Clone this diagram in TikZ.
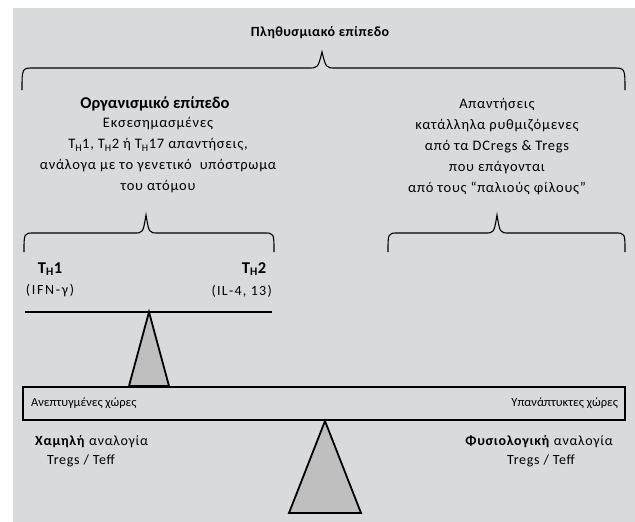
\documentclass[tikz,border=0pt]{standalone}
\usepackage{fontspec}
\setmainfont{Carlito}
\usetikzlibrary{positioning}
\definecolor{bggray}{RGB}{217,218,220}
\definecolor{trigray}{RGB}{191,191,191}

\begin{document}
\begin{tikzpicture}[x=1pt,y=-1pt,
    txt/.style={inner sep=0pt, align=center, font=\fontsize{14.5}{21}\selectfont\addfontfeatures{LetterSpace=5}},
    head/.style={inner sep=0pt, font=\fontsize{16.5}{18}\selectfont\bfseries},
    lbl/.style={inner sep=0pt, font=\fontsize{12.5}{14}\selectfont},
    low/.style={inner sep=0pt, font=\fontsize{14}{16}\selectfont\addfontfeatures{LetterSpace=5}},
    brc/.style={draw, line width=1.1pt},
    tri/.style={fill=trigray, draw, line width=1.8pt},
    node distance={6pt}]
    \useasboundingbox (0,0) rectangle (635,522);
    \fill[bggray] (13,8) rectangle (635,522);

    % population level
    \node[head, font=\fontsize{14}{16}\selectfont\bfseries\addfontfeatures{LetterSpace=3}] (pop) at (320,33) {Πληθυσμιακό επίπεδο};
    \draw[brc] (22,90) .. controls (22,68) .. (34,68) -- (308,68)
        .. controls (318,68) .. (322,52) .. controls (326,68) .. (336,68)
        -- (613,68) .. controls (625,68) .. (625,90);

    % organism level
    \node[head] (org) at (155,104) {Οργανισμικό επίπεδο};
    \node[txt] (orgtxt) at (158,155.5) {Εκσεσημασμένες\\
        T\textsubscript{H}1, T\textsubscript{H}2 ή T\textsubscript{H}17 απαντήσεις,\\
        ανάλογα με το γενετικό \ υπόστρωμα\\
        του ατόμου};
    \node[txt] (reg) at (497,147) {Απαντήσεις\\
        κατάλληλα ρυθμιζόμενες\\
        από τα DCregs \& Tregs\\
        που επάγονται\\
        από τους “παλιούς φίλους”};

    \draw[brc] (24,252) .. controls (24,233) .. (34,233) -- (134,233)
        .. controls (143,233) .. (146,215) .. controls (149,233) .. (158,233)
        -- (264,233) .. controls (274,233) .. (274,252);
    \draw[brc] (388,252) .. controls (388,233) .. (398,233) -- (485,233)
        .. controls (494,233) .. (497,215) .. controls (500,233) .. (509,233)
        -- (615,233) .. controls (625,233) .. (625,252);

    % TH1 / TH2 balance
    \node[head] (th1) at (50,269) {T\textsubscript{H}1};
    \node[head] (th2) at (254,269) {T\textsubscript{H}2};
    \node[low, font=\fontsize{14}{16}\selectfont\addfontfeatures{LetterSpace=12}] (ifn) at (50,291) {(IFN-γ)};
    \node[low, anchor=east, font=\fontsize{14}{16}\selectfont\addfontfeatures{LetterSpace=9}] (il) at (272,291) {(IL-4, 13)};
    \coordinate (barl) at (25,312);
    \coordinate (barr) at (272,312);
    \draw[line width=2.2pt] (barl) -- (barr);
    \filldraw[tri] (149,312) -- (129,386) -- (169,386) -- cycle;

    % main balance
    \node[draw, line width=2.2pt, minimum width=602pt, minimum height=33pt, inner sep=0pt] (beam) at (324,403.5) {};
    \node[lbl, anchor=west] (dev) at ([xshift=9pt]beam.west) {Ανεπτυγμένες χώρες};
    \node[lbl, anchor=east] (undev) at ([xshift=-8pt]beam.east) {Υπανάπτυκτες χώρες};
    \filldraw[tri] (325,421) -- (289,513) -- (361,513) -- cycle;

    \node[low, anchor=west] (lowr) at (35,442) {\textbf{Χαμηλή} αναλογία};
    \node[low] (lowtr) at (81,461) {Tregs / Teff};
    \node[low, anchor=east] (norm) at (613,442) {\textbf{Φυσιολογική} αναλογία};
    \node[low] (normtr) at (541,461) {Tregs / Teff};
\end{tikzpicture}
\end{document}
